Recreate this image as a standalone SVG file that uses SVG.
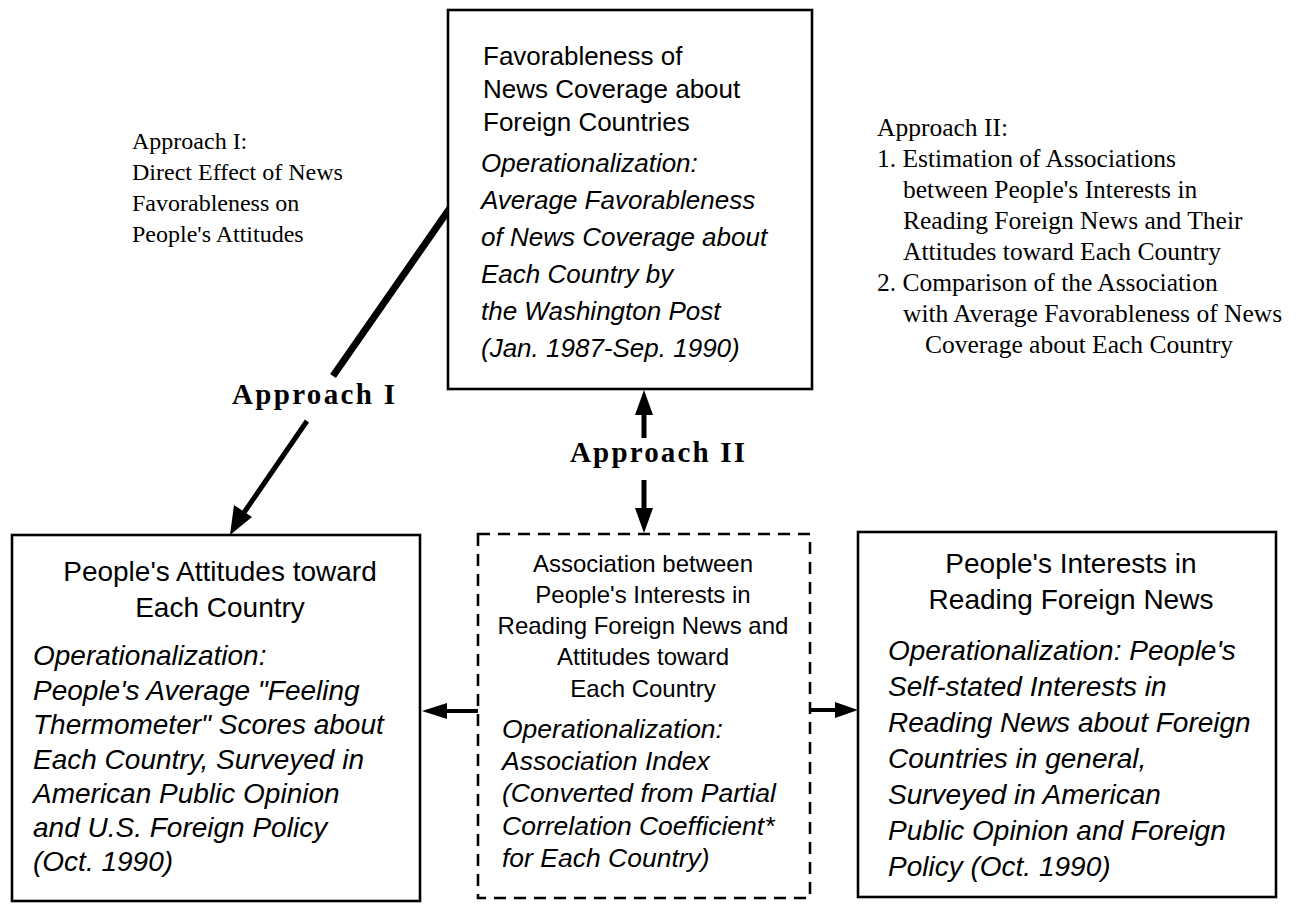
<svg xmlns="http://www.w3.org/2000/svg" width="1312" height="904" viewBox="0 0 1312 904">
  <defs>
    <style>
      .box { fill: #fff; stroke: #000; stroke-width: 2.6; }
      .dash { fill: none; stroke: #000; stroke-width: 2.6; stroke-dasharray: 12 8; }
      .hd { font-family: "Liberation Sans", Arial, sans-serif; font-size: 26px; fill: #000; }
      .hd28 { font-family: "Liberation Sans", Arial, sans-serif; font-size: 28px; fill: #000; }
      .hd24 { font-family: "Liberation Sans", Arial, sans-serif; font-size: 24px; fill: #000; }
      .it { font-family: "Liberation Sans", Arial, sans-serif; font-size: 26px; font-style: italic; fill: #000; }
      .it28 { font-family: "Liberation Sans", Arial, sans-serif; font-size: 28px; font-style: italic; fill: #000; }
      .it26 { font-family: "Liberation Sans", Arial, sans-serif; font-size: 26.5px; font-style: italic; fill: #000; }
      .note { font-family: "Liberation Serif", "Times New Roman", serif; font-size: 24px; fill: #000; }
      .note2 { font-family: "Liberation Serif", "Times New Roman", serif; font-size: 25.5px; fill: #000; }
      .lbl { font-family: "Liberation Serif", "Times New Roman", serif; font-size: 29px; font-weight: bold; fill: #000; }
      .ln { stroke: #000; fill: none; stroke-linecap: butt; }
    </style>
  </defs>
  <rect width="1312" height="904" fill="#fff"/>

  <!-- connectors -->
  <g id="connectors">
    <!-- Approach I: diagonal from news box down to attitudes box -->
    <line class="ln" x1="450" y1="208" x2="333" y2="376" stroke-width="7"/>
    <line class="ln" x1="307" y1="421" x2="243" y2="514" stroke-width="5"/>
    <polygon points="230,535 234,505 252,517" fill="#000"/>
    <!-- Approach II: up to news box, down to association box -->
    <line class="ln" x1="644" y1="412" x2="644" y2="438" stroke-width="5"/>
    <polygon points="644,390 635,415 653,415" fill="#000"/>
    <line class="ln" x1="644" y1="480" x2="644" y2="510" stroke-width="5"/>
    <polygon points="644,533 635,508 653,508" fill="#000"/>
    <!-- association box out to both side boxes -->
    <line class="ln" x1="478" y1="711" x2="444" y2="711" stroke-width="4"/>
    <polygon points="422,711 447,703 447,719" fill="#000"/>
    <line class="ln" x1="810" y1="710" x2="838" y2="710" stroke-width="4"/>
    <polygon points="858,710 835,702 835,718" fill="#000"/>
  </g>

  <!-- labels on the connectors -->
  <g id="connector-labels">
    <text class="lbl" x="232" y="404" textLength="163" lengthAdjust="spacing">Approach  I</text>
    <text class="lbl" x="570" y="462" textLength="175" lengthAdjust="spacing">Approach  II</text>
  </g>

  <!-- side notes -->
  <g id="note-approach-1" class="note">
    <text x="132" y="149">Approach I:</text>
    <text x="132" y="180">Direct Effect of News</text>
    <text x="132" y="211">Favorableness on</text>
    <text x="132" y="242">People's Attitudes</text>
  </g>
  <g id="note-approach-2" class="note2">
    <text x="877" y="136">Approach II:</text>
    <text x="877" y="167">1. Estimation of Associations</text>
    <text x="903" y="198">between People's Interests in</text>
    <text x="903" y="229">Reading Foreign News and Their</text>
    <text x="903" y="260">Attitudes toward Each Country</text>
    <text x="877" y="291">2. Comparison of the Association</text>
    <text x="903" y="322">with Average Favorableness of News</text>
    <text x="925" y="353">Coverage about Each Country</text>
  </g>

  <!-- news favorableness -->
  <g id="node-news">
    <rect class="box" x="448" y="10" width="364" height="379"/>
    <text class="hd" x="483" y="65">Favorableness of</text>
    <text class="hd" x="483" y="98">News Coverage about</text>
    <text class="hd" x="483" y="131">Foreign Countries</text>
    <text class="it" x="481" y="172">Operationalization:</text>
    <text class="it" x="481" y="209">Average Favorableness</text>
    <text class="it" x="481" y="246">of News Coverage about</text>
    <text class="it" x="481" y="283">Each Country by</text>
    <text class="it" x="481" y="320">the Washington Post</text>
    <text class="it" x="481" y="357">(Jan. 1987-Sep. 1990)</text>
  </g>

  <!-- attitudes -->
  <g id="node-attitudes">
    <rect class="box" x="12" y="535" width="408" height="366"/>
    <text class="hd28" x="220" y="581" text-anchor="middle">People's Attitudes toward</text>
    <text class="hd28" x="220" y="617" text-anchor="middle">Each Country</text>
    <text class="it28" x="33" y="665">Operationalization:</text>
    <text class="it28" x="33" y="700">People's Average "Feeling</text>
    <text class="it28" x="33" y="734">Thermometer" Scores about</text>
    <text class="it28" x="33" y="769">Each Country, Surveyed in</text>
    <text class="it28" x="33" y="803">American Public Opinion</text>
    <text class="it28" x="33" y="837">and U.S. Foreign Policy</text>
    <text class="it28" x="33" y="871">(Oct. 1990)</text>
  </g>

  <!-- association -->
  <g id="node-association">
    <rect class="dash" x="478" y="534" width="332" height="364"/>
    <text class="hd24" x="643" y="572" text-anchor="middle">Association between</text>
    <text class="hd24" x="643" y="603" text-anchor="middle">People's Interests in</text>
    <text class="hd24" x="643" y="634" text-anchor="middle">Reading Foreign News and</text>
    <text class="hd24" x="643" y="665" text-anchor="middle">Attitudes toward</text>
    <text class="hd24" x="643" y="697" text-anchor="middle">Each Country</text>
    <text class="it26" x="502" y="738">Operationalization:</text>
    <text class="it26" x="502" y="770">Association Index</text>
    <text class="it26" x="502" y="802">(Converted from Partial</text>
    <text class="it26" x="502" y="835">Correlation Coefficient*</text>
    <text class="it26" x="502" y="867">for Each Country)</text>
  </g>

  <!-- reading interest -->
  <g id="node-interest">
    <rect class="box" x="858" y="532" width="418" height="365"/>
    <text class="hd28" x="1071" y="573" text-anchor="middle">People's Interests in</text>
    <text class="hd28" x="1071" y="609" text-anchor="middle">Reading Foreign News</text>
    <text class="it28" x="888" y="660">Operationalization: People's</text>
    <text class="it28" x="888" y="696">Self-stated Interests in</text>
    <text class="it28" x="888" y="732">Reading News about Foreign</text>
    <text class="it28" x="888" y="768">Countries in general,</text>
    <text class="it28" x="888" y="804">Surveyed in American</text>
    <text class="it28" x="888" y="840">Public Opinion and Foreign</text>
    <text class="it28" x="888" y="876">Policy (Oct. 1990)</text>
  </g>
</svg>
